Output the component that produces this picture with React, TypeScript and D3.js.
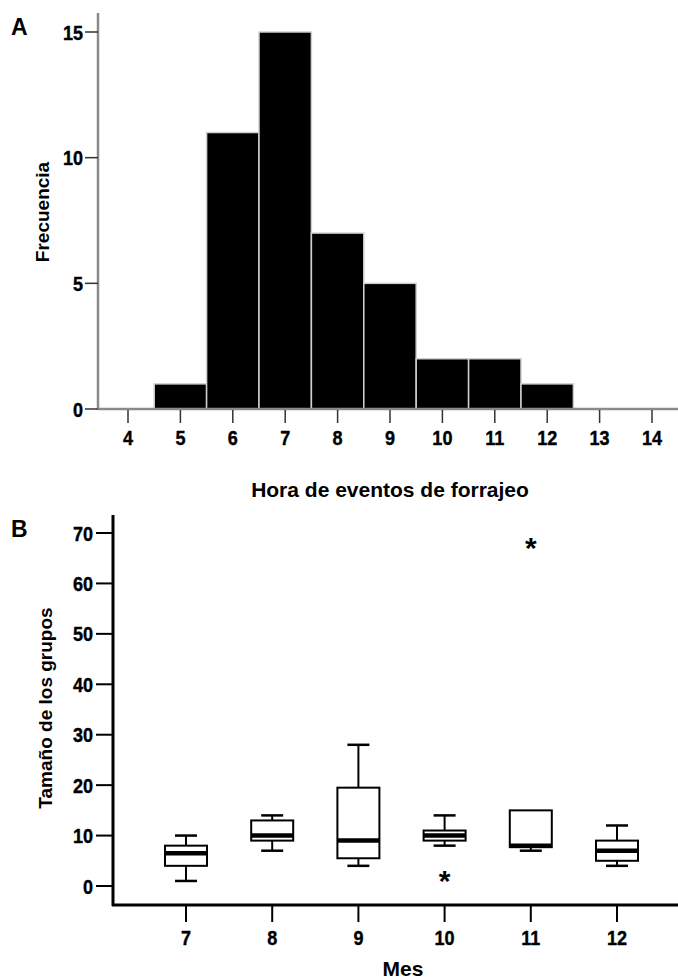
import React from "react";
import * as d3 from "d3";

// Panel A: histogram
const hours = [4, 5, 6, 7, 8, 9, 10, 11, 12, 13, 14];
const frequencies = [0, 1, 11, 15, 7, 5, 2, 2, 1, 0, 0];
const freqTicks = [0, 5, 10, 15];

// Panel B: boxplots
const months = [7, 8, 9, 10, 11, 12];
const whiskerLow = [1, 7, 4, 8, 7, 4];
const q1 = [4, 9, 5.5, 9, 7.7, 5];
const medians = [6.5, 10, 9, 10, 8, 7];
const q3 = [8, 13, 19.5, 11, 15, 9];
const whiskerHigh = [10, 14, 28, 14, 15, 12];
const outlierMonths = [10, 11];
const outlierValues = [2, 68];
const sizeTicks = [0, 10, 20, 30, 40, 50, 60, 70];

const sans = "'Liberation Sans', Arial, Helvetica, sans-serif";

function Tick({ x, y, anchor, children }: { x: number; y: number; anchor: string; children: React.ReactNode }) {
  return (
    <text
      transform={`translate(${x},${y}) scale(0.86,1)`}
      textAnchor={anchor}
      fontFamily={sans}
      fontWeight="bold"
      fontSize={21}
      stroke="#000"
      strokeWidth={0.4}
    >
      {children}
    </text>
  );
}

export default function App() {
  const xA = d3.scaleLinear().domain([4, 14]).range([128, 652]);
  const yA = d3.scaleLinear().domain([0, 15]).range([409, 32]);
  const xB = d3.scalePoint<number>().domain(months).range([186, 617]);
  const yB = d3.scaleLinear().domain([0, 70]).range([886, 533]);
  const half = (xA(5) - xA(4)) / 2;
  const boxW = 42;
  const capW = 22;
  const gray = "#8a8a8a";

  return (
    <svg width={678} height={979} style={{ position: "absolute", left: 0, top: 0, background: "#fff" }}>
      {/* Panel A */}
      <text x={11} y={35} fontFamily={sans} fontWeight="bold" fontSize={23}>A</text>
      {hours.map((h, i) =>
        frequencies[i] > 0 ? (
          <rect
            key={"b" + h}
            x={xA(h) - half}
            y={yA(frequencies[i])}
            width={2 * half}
            height={yA(0) - yA(frequencies[i])}
            fill="#000"
            stroke="#d0d0d0"
            strokeWidth={1.5}
          />
        ) : null
      )}
      <line x1={98} x2={98} y1={13} y2={yA(0) + 1} stroke={gray} strokeWidth={2.5} />
      <line x1={98} x2={678} y1={yA(0)} y2={yA(0)} stroke={gray} strokeWidth={2.5} />
      {freqTicks.map((t) => (
        <g key={"ya" + t}>
          <line x1={85} x2={98} y1={yA(t)} y2={yA(t)} stroke="#333" strokeWidth={1.5} />
          <Tick x={83} y={yA(t) + 7.5} anchor="end">{t}</Tick>
        </g>
      ))}
      {hours.map((h) => (
        <g key={"xa" + h}>
          <line x1={xA(h)} x2={xA(h)} y1={yA(0) + 1} y2={yA(0) + 14} stroke="#333" strokeWidth={1.5} />
          <Tick x={xA(h)} y={445} anchor="middle">{h}</Tick>
        </g>
      ))}
      <text x={390} y={497} textAnchor="middle" fontFamily={sans} fontWeight="bold" fontSize={21}>Hora de eventos de forrajeo</text>
      <text transform="translate(49,212) rotate(-90)" textAnchor="middle" fontFamily={sans} fontWeight="bold" fontSize={19}>Frecuencia</text>

      {/* Panel B */}
      <text x={11} y={537} fontFamily={sans} fontWeight="bold" fontSize={23}>B</text>
      <line x1={113} x2={113} y1={515} y2={906} stroke="#000" strokeWidth={3} />
      <line x1={112} x2={678} y1={905} y2={905} stroke="#000" strokeWidth={3} />
      {sizeTicks.map((t) => (
        <g key={"yb" + t}>
          <line x1={96} x2={113} y1={yB(t)} y2={yB(t)} stroke="#000" strokeWidth={2} />
          <Tick x={93} y={yB(t) + 7.5} anchor="end">{t}</Tick>
        </g>
      ))}
      {months.map((m) => (
        <g key={"xb" + m}>
          <line x1={xB(m)!} x2={xB(m)!} y1={905} y2={922} stroke="#000" strokeWidth={2} />
          <Tick x={xB(m)!} y={945} anchor="middle">{m}</Tick>
        </g>
      ))}
      {months.map((m, i) => {
        const cx = xB(m)!;
        return (
          <g key={"box" + m} stroke="#000" fill="none">
            {whiskerHigh[i] > q3[i] && (
              <>
                <line x1={cx} x2={cx} y1={yB(q3[i])} y2={yB(whiskerHigh[i])} strokeWidth={2} />
                <line x1={cx - capW / 2} x2={cx + capW / 2} y1={yB(whiskerHigh[i])} y2={yB(whiskerHigh[i])} strokeWidth={2.5} />
              </>
            )}
            {whiskerLow[i] < q1[i] && (
              <>
                <line x1={cx} x2={cx} y1={yB(q1[i])} y2={yB(whiskerLow[i])} strokeWidth={2} />
                <line x1={cx - capW / 2} x2={cx + capW / 2} y1={yB(whiskerLow[i])} y2={yB(whiskerLow[i])} strokeWidth={2.5} />
              </>
            )}
            <rect x={cx - boxW / 2} y={yB(q3[i])} width={boxW} height={yB(q1[i]) - yB(q3[i])} fill="#fff" strokeWidth={2} />
            <line x1={cx - boxW / 2} x2={cx + boxW / 2} y1={yB(medians[i])} y2={yB(medians[i])} strokeWidth={4.5} />
          </g>
        );
      })}
      {outlierMonths.map((m, i) => (
        <text key={"o" + m} x={xB(m)!} y={yB(outlierValues[i]) + 15} textAnchor="middle" fontFamily={sans} fontWeight="bold" fontSize={30}>*</text>
      ))}
      <text x={403} y={976} textAnchor="middle" fontFamily={sans} fontWeight="bold" fontSize={21}>Mes</text>
      <text transform="translate(52,708) rotate(-90)" textAnchor="middle" fontFamily={sans} fontWeight="bold" fontSize={19}>Tamaño de los grupos</text>
    </svg>
  );
}
